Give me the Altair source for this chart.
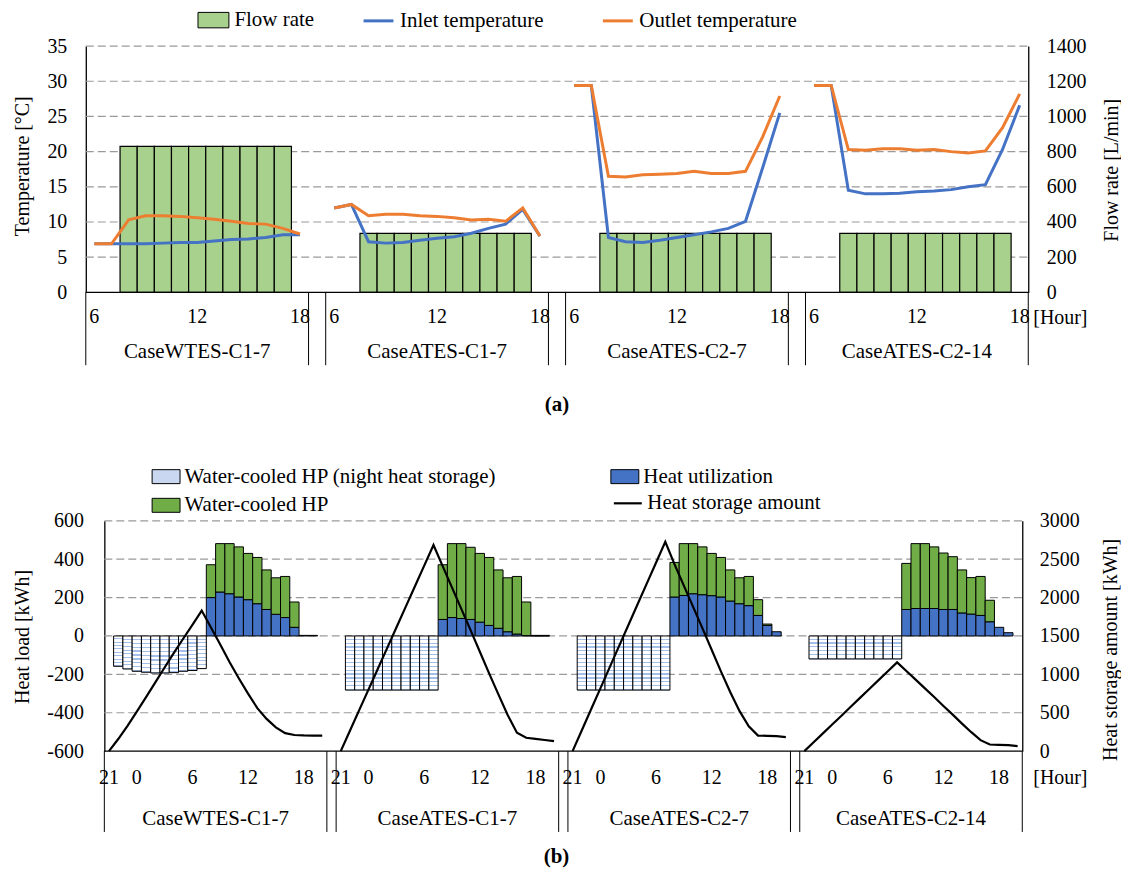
import altair as alt
import pandas as pd

FONT = "Liberation Serif"
GRID = "#9a9a9a"
BLUE = "#4472c4"
ORANGE = "#ed7d31"
GREEN_A = "#a9d18e"
GREEN_B = "#70ad47"
NIGHT_SWATCH = "#c9d8f0"

CASES = ["CaseWTES-C1-7", "CaseATES-C1-7", "CaseATES-C2-7", "CaseATES-C2-14"]

# ---------------- (a) flow rate and temperatures ----------------
HOURS_A = [6, 7, 8, 9, 10, 11, 12, 13, 14, 15, 16, 17, 18]
HOUR_TICKS_A = [6, 12, 18]
FLOW_HOURS = [8, 9, 10, 11, 12, 13, 14, 15, 16, 17]

FLOW_WTES_C1_7 = [830, 830, 830, 830, 830, 830, 830, 830, 830, 830]
FLOW_ATES_C1_7 = [335, 335, 335, 335, 335, 335, 335, 335, 335, 335]
FLOW_ATES_C2_7 = [335, 335, 335, 335, 335, 335, 335, 335, 335, 335]
FLOW_ATES_C2_14 = [335, 335, 335, 335, 335, 335, 335, 335, 335, 335]

INLET_WTES_C1_7 = [6.9, 6.9, 6.9, 6.9, 7.0, 7.1, 7.1, 7.3, 7.5, 7.6, 7.8, 8.2, 8.2]
OUTLET_WTES_C1_7 = [6.9, 6.9, 10.3, 10.9, 10.9, 10.8, 10.6, 10.4, 10.1, 9.8, 9.7, 9.1, 8.3]
INLET_ATES_C1_7 = [12.0, 12.5, 7.2, 7.0, 7.1, 7.4, 7.7, 7.9, 8.4, 9.1, 9.7, 11.8, 8.0]
OUTLET_ATES_C1_7 = [12.0, 12.5, 10.9, 11.1, 11.1, 10.9, 10.8, 10.6, 10.3, 10.4, 10.1, 12.0, 8.0]
INLET_ATES_C2_7 = [29.4, 29.4, 7.8, 7.2, 7.1, 7.4, 7.8, 8.2, 8.6, 9.1, 10.1, 17.7, 25.5]
OUTLET_ATES_C2_7 = [29.4, 29.4, 16.5, 16.4, 16.7, 16.8, 16.9, 17.2, 16.9, 16.9, 17.2, 22.1, 27.9]
INLET_ATES_C2_14 = [29.4, 29.4, 14.5, 14.0, 14.0, 14.1, 14.3, 14.4, 14.6, 15.0, 15.3, 20.3, 26.6]
OUTLET_ATES_C2_14 = [29.4, 29.4, 20.3, 20.2, 20.4, 20.4, 20.2, 20.3, 20.0, 19.8, 20.1, 23.4, 28.2]

TEMP_TICKS = [0, 5, 10, 15, 20, 25, 30, 35]
FLOW_TICKS = [0, 200, 400, 600, 800, 1000, 1200, 1400]

# ---------------- (b) heat load and heat storage ----------------
HOURS_B = [21, 22, 23, 0, 1, 2, 3, 4, 5, 6, 7, 8, 9, 10, 11, 12, 13, 14, 15, 16, 17, 18, 19, 20]
HOUR_TICKS_B = [21, 0, 6, 12, 18]
NIGHT_HOURS = [22, 23, 0, 1, 2, 3, 4, 5, 6, 7]
DAY_HOURS = [8, 9, 10, 11, 12, 13, 14, 15, 16, 17, 18, 19]

NIGHT_WTES_C1_7 = [-158, -172, -184, -189, -193, -193, -191, -184, -180, -170]
NIGHT_ATES_C1_7 = [-282, -282, -282, -282, -282, -282, -282, -282, -282, -282]
NIGHT_ATES_C2_7 = [-282, -282, -282, -282, -282, -282, -282, -282, -282, -282]
NIGHT_ATES_C2_14 = [-120, -120, -120, -120, -120, -120, -120, -120, -120, -120]

UTIL_WTES_C1_7 = [200, 229, 220, 203, 189, 168, 138, 113, 96, 45, 3, 3]
HP_WTES_C1_7 = [171, 252, 261, 261, 241, 241, 206, 190, 214, 132, 0, 0]
UTIL_ATES_C1_7 = [86, 96, 91, 86, 72, 55, 40, 22, 10, 2, 1, 1]
HP_ATES_C1_7 = [285, 385, 390, 376, 358, 354, 304, 281, 300, 175, 2, 2]
UTIL_ATES_C2_7 = [203, 211, 220, 215, 210, 203, 182, 168, 158, 107, 55, 22]
HP_ATES_C2_7 = [180, 270, 261, 249, 220, 206, 162, 135, 152, 82, 7, 0]
UTIL_ATES_C2_14 = [138, 143, 143, 143, 138, 138, 120, 114, 107, 74, 45, 17]
HP_ATES_C2_14 = [240, 338, 338, 321, 294, 275, 224, 190, 203, 112, 0, 0]

STORAGE_WTES_C1_7 = [0, 158, 330, 514, 703, 896, 1089, 1280, 1464, 1645, 1831, 1610,
                     1390, 1160, 950, 750, 560, 420, 310, 235, 210, 205, 203, 203]
STORAGE_ATES_C1_7 = [0, 268, 537, 805, 1074, 1342, 1610, 1879, 2147, 2416, 2684, 2407,
                     2130, 1853, 1576, 1294, 1013, 740, 470, 240, 175, 160, 145, 130]
STORAGE_ATES_C2_7 = [0, 273, 545, 818, 1091, 1364, 1636, 1909, 2182, 2454, 2727, 2433,
                     2156, 1879, 1602, 1320, 1039, 770, 524, 325, 203, 199, 195, 182]
STORAGE_ATES_C2_14 = [0, 116, 231, 347, 462, 578, 694, 809, 925, 1040, 1156, 1043,
                      931, 818, 706, 589, 476, 359, 247, 143, 87, 82, 78, 65]

LOAD_TICKS = [-600, -400, -200, 0, 200, 400, 600]
STORE_TICKS = [0, 500, 1000, 1500, 2000, 2500, 3000]

NIGHT_LBL = "Water-cooled HP (night heat storage)"
UTIL_LBL = "Heat utilization"
HP_LBL = "Water-cooled HP"
STORE_LBL = "Heat storage amount"

FLOW = [FLOW_WTES_C1_7, FLOW_ATES_C1_7, FLOW_ATES_C2_7, FLOW_ATES_C2_14]
INLET = [INLET_WTES_C1_7, INLET_ATES_C1_7, INLET_ATES_C2_7, INLET_ATES_C2_14]
OUTLET = [OUTLET_WTES_C1_7, OUTLET_ATES_C1_7, OUTLET_ATES_C2_7, OUTLET_ATES_C2_14]
NIGHT = [NIGHT_WTES_C1_7, NIGHT_ATES_C1_7, NIGHT_ATES_C2_7, NIGHT_ATES_C2_14]
UTIL = [UTIL_WTES_C1_7, UTIL_ATES_C1_7, UTIL_ATES_C2_7, UTIL_ATES_C2_14]
HP = [HP_WTES_C1_7, HP_ATES_C1_7, HP_ATES_C2_7, HP_ATES_C2_14]
STORAGE = [STORAGE_WTES_C1_7, STORAGE_ATES_C1_7, STORAGE_ATES_C2_7, STORAGE_ATES_C2_14]

# ---------------- layout (category slots) ----------------
SLOT_A = len(HOURS_A) + 1          # hourly categories + one blank category
SLOT_B = len(HOURS_B) + 1
N_A = SLOT_A * 3 + len(HOURS_A)    # 55 categories
N_B = SLOT_B * 3 + len(HOURS_B)    # 99 categories
PAD_B = 2                          # blank room left of panel (b)
W_A, H_A = 945, 247
W_B, H_B = 939, 231
UNIT_B = W_B / (N_B + PAD_B)


def xa(p, h):
    return SLOT_A * p + HOURS_A.index(h)


def xb(p, h):
    return SLOT_B * p + HOURS_B.index(h)


XA = alt.Scale(domain=[0, N_A], nice=False, zero=False)
XB = alt.Scale(domain=[-PAD_B, N_B], nice=False, zero=False)
TEMP = alt.Scale(domain=[0, 35], nice=False, zero=False)
FLOWS = alt.Scale(domain=[0, 1400], nice=False, zero=False)
LOAD = alt.Scale(domain=[-600, 600], nice=False, zero=False)
STORE = alt.Scale(domain=[0, 3000], nice=False, zero=False)

AXIS_COMMON = dict(ticks=False, tickSize=0, grid=False, domainColor="black", domainWidth=1.3,
                   labelFont=FONT, labelFontSize=20, labelColor="black",
                   titleFont=FONT, titleFontSize=20, titleColor="black", titleFontWeight="normal",
                   titleAngle=270, titleAlign="center", titleBaseline="middle",
                   labelExpr="'' + datum.value")

# ---------------- frames for (a) ----------------
bars_a = pd.DataFrame([
    {"case": CASES[p], "x0": xa(p, h), "x1": xa(p, h) + 1, "flow": v, "zero": 0, "item": "Flow rate"}
    for p in range(4) for h, v in zip(FLOW_HOURS, FLOW[p])
])
lines_a = pd.DataFrame([
    {"case": CASES[p], "x": xa(p, h) + 0.5, "temp": v, "series": s}
    for p in range(4)
    for s, arr in (("Inlet temperature", INLET[p]), ("Outlet temperature", OUTLET[p]))
    for h, v in zip(HOURS_A, arr)
])
grid_a = pd.DataFrame({"v": TEMP_TICKS[1:], "x0": 0, "x1": N_A})
base_a = pd.DataFrame({"v": [0], "x0": [0], "x1": [N_A]})
seps_a = pd.DataFrame({"x": sorted({b for p in range(4) for b in (SLOT_A * p, SLOT_A * p + len(HOURS_A))})})
ticks_a = pd.DataFrame([
    {"x": xa(p, h) + 0.5, "label": str(h)} for p in range(4) for h in HOUR_TICKS_A
])
cases_a = pd.DataFrame([
    {"x": SLOT_A * p + len(HOURS_A) / 2, "label": CASES[p]} for p in range(4)
])

LEG_Y_A = -42
stroke_scale_a = alt.Scale(domain=["Inlet temperature", "Outlet temperature"], range=[BLUE, ORANGE])
stroke_legend_a = alt.Legend(orient="none", legendX=277, legendY=LEG_Y_A, direction="horizontal",
                             title=None, symbolType="stroke", symbolSize=900, symbolStrokeWidth=3,
                             labelFont=FONT, labelFontSize=21, labelColor="black", labelOffset=5,
                             columnPadding=52, padding=0, labelLimit=400)

g_a = alt.Chart(grid_a).mark_rule(color=GRID, strokeDash=[8, 4], strokeWidth=1.2).encode(
    x=alt.X("x0:Q", scale=XA, axis=None), x2="x1:Q",
    y=alt.Y("v:Q", scale=TEMP, axis=None))
b_a = alt.Chart(bars_a).mark_rect(stroke="black", strokeWidth=1.2).encode(
    x=alt.X("x0:Q", scale=XA, axis=None), x2="x1:Q",
    y=alt.Y("flow:Q", scale=FLOWS,
            axis=alt.Axis(orient="right", values=FLOW_TICKS, title="Flow rate [L/min]",
                          labelPadding=18, titleX=83, titleY=124, **AXIS_COMMON)),
    y2="zero:Q",
    fill=alt.Fill("item:N", scale=alt.Scale(domain=["Flow rate"], range=[GREEN_A]),
                  legend=alt.Legend(orient="none", legendX=112, legendY=LEG_Y_A, title=None,
                                    symbolType="M-1,-0.5H1V0.5H-1Z", symbolSize=961,
                                    symbolStrokeColor="black", symbolStrokeWidth=1,
                                    labelFont=FONT, labelFontSize=21, labelColor="black",
                                    labelOffset=5, padding=0)))
inlet_a = alt.Chart(lines_a).transform_filter(alt.datum.series == "Inlet temperature").mark_line(
    strokeWidth=3).encode(
    x=alt.X("x:Q", scale=XA, axis=None),
    y=alt.Y("temp:Q", scale=TEMP,
            axis=alt.Axis(orient="left", values=TEMP_TICKS, title="Temperature [°C]",
                          labelPadding=19, titleX=-63, titleY=120, **AXIS_COMMON)),
    stroke=alt.Stroke("series:N", scale=stroke_scale_a, legend=stroke_legend_a),
    detail="case:N")
outlet_a = alt.Chart(lines_a).transform_filter(alt.datum.series == "Outlet temperature").mark_line(
    strokeWidth=3).encode(
    x=alt.X("x:Q", scale=XA, axis=None),
    y=alt.Y("temp:Q", scale=TEMP, axis=None),
    stroke=alt.Stroke("series:N", scale=stroke_scale_a, legend=stroke_legend_a),
    detail="case:N")
ax_a = alt.Chart(base_a).mark_rule(color="black", strokeWidth=1.3).encode(
    x=alt.X("x0:Q", scale=XA, axis=None), x2="x1:Q",
    y=alt.Y("v:Q", scale=TEMP, axis=None))
sep_a = alt.Chart(seps_a).mark_rule(color="black", strokeWidth=1).encode(
    x=alt.X("x:Q", scale=XA, axis=None), y=alt.value(H_A), y2=alt.value(H_A + 73))
tk_a = alt.Chart(ticks_a).mark_text(font=FONT, fontSize=20, baseline="middle").encode(
    x=alt.X("x:Q", scale=XA, axis=None), y=alt.value(H_A + 25), text="label:N")
cs_a = alt.Chart(cases_a).mark_text(font=FONT, fontSize=21, baseline="middle").encode(
    x=alt.X("x:Q", scale=XA, axis=None), y=alt.value(H_A + 60), text="label:N")
unit_a = alt.Chart(pd.DataFrame({"t": ["[Hour]"]})).mark_text(
    font=FONT, fontSize=20, align="left", baseline="middle").encode(
    x=alt.value(W_A + 5), y=alt.value(H_A + 26), text="t:N")
cap_a = alt.Chart(pd.DataFrame({"t": ["(a)"]})).mark_text(
    font=FONT, fontSize=21, fontWeight="bold", baseline="middle").encode(
    x=alt.value(W_A / 2), y=alt.value(H_A + 113), text="t:N")

top = alt.layer(g_a, b_a, inlet_a, outlet_a, ax_a, sep_a, tk_a, cs_a, unit_a, cap_a).properties(
    width=W_A, height=H_A).resolve_scale(y="independent")

# ---------------- frames for (b) ----------------
night_frames = [
    pd.DataFrame([{"case": CASES[p], "x0": xb(p, h), "x1": xb(p, h) + 1, "top": 0, "bot": v}
                  for h, v in zip(NIGHT_HOURS, NIGHT[p])])
    for p in range(4)
]
day_b = pd.DataFrame(
    [{"case": CASES[p], "x0": xb(p, h), "x1": xb(p, h) + 1, "bot": 0, "top": u, "part": UTIL_LBL}
     for p in range(4) for h, u in zip(DAY_HOURS, UTIL[p])] +
    [{"case": CASES[p], "x0": xb(p, h), "x1": xb(p, h) + 1, "bot": u, "top": u + g, "part": HP_LBL}
     for p in range(4) for h, u, g in zip(DAY_HOURS, UTIL[p], HP[p]) if g > 0]
)
store_b = pd.DataFrame([
    {"case": CASES[p], "x": xb(p, h) + 0.5, "store": v, "item": STORE_LBL}
    for p in range(4) for h, v in zip(HOURS_B, STORAGE[p])
])
grid_b = pd.DataFrame({"v": LOAD_TICKS[1:], "x0": 0, "x1": N_B})
base_b = pd.DataFrame({"v": [LOAD_TICKS[0]], "x0": [0], "x1": [N_B]})
seps_b = pd.DataFrame({"x": sorted({b for p in range(4) for b in (SLOT_B * p, SLOT_B * p + len(HOURS_B))})})
ticks_b = pd.DataFrame([
    {"x": xb(p, h) + 0.5, "label": str(h)} for p in range(4) for h in HOUR_TICKS_B
])
cases_b = pd.DataFrame([
    {"x": SLOT_B * p + len(HOURS_B) / 2, "label": CASES[p]} for p in range(4)
])


def stripes(n, line="#a3bfe9", bg="#ffffff", frac=0.3):
    stops = []
    for i in range(n):
        a, b, c = i / n, (i + 1 - frac) / n, (i + 1) / n
        stops += [{"offset": a, "color": bg}, {"offset": b, "color": bg},
                  {"offset": b, "color": line}, {"offset": c, "color": line}]
    return {"gradient": "linear", "x1": 0, "y1": 0, "x2": 0, "y2": 1, "stops": stops}


STRIPES = [9, 14, 14, 6]

g_b = alt.Chart(grid_b).mark_rule(color=GRID, strokeDash=[8, 4], strokeWidth=1.2).encode(
    x=alt.X("x0:Q", scale=XB, axis=None), x2="x1:Q",
    y=alt.Y("v:Q", scale=LOAD, axis=None))
ax_b = alt.Chart(base_b).mark_rule(color="black", strokeWidth=1.3).encode(
    x=alt.X("x0:Q", scale=XB, axis=None), x2="x1:Q",
    y=alt.Y("v:Q", scale=LOAD, axis=None))
night_layers = [
    alt.Chart(night_frames[p]).mark_rect(stroke="black", strokeWidth=1, fill=stripes(STRIPES[p])).encode(
        x=alt.X("x0:Q", scale=XB, axis=None), x2="x1:Q",
        y=alt.Y("top:Q", scale=LOAD, axis=None), y2="bot:Q")
    for p in range(4)
]
day_layer = alt.Chart(day_b).mark_rect(stroke="black", strokeWidth=1).encode(
    x=alt.X("x0:Q", scale=XB, axis=None), x2="x1:Q",
    y=alt.Y("top:Q", scale=LOAD,
            axis=alt.Axis(orient="left", values=LOAD_TICKS, title="Heat load [kWh]",
                          offset=-PAD_B * UNIT_B, labelPadding=21, titleX=-81.6, titleY=116,
                          **AXIS_COMMON)),
    y2="bot:Q",
    fill=alt.Fill("part:N", scale=alt.Scale(domain=[NIGHT_LBL, HP_LBL, UTIL_LBL],
                                            range=[NIGHT_SWATCH, GREEN_B, BLUE]),
                  legend=alt.Legend(orient="none", legendX=66, legendY=-59, title=None, columns=2,
                                    symbolType="M-1,-0.5H1V0.5H-1Z", symbolSize=784,
                                    symbolStrokeColor="black", symbolStrokeWidth=1,
                                    labelFont=FONT, labelFontSize=21, labelColor="black",
                                    labelOffset=4, labelLimit=400, columnPadding=112,
                                    rowPadding=4, padding=0)))
line_b = alt.Chart(store_b).mark_line(strokeWidth=2.2).encode(
    x=alt.X("x:Q", scale=XB, axis=None),
    y=alt.Y("store:Q", scale=STORE,
            axis=alt.Axis(orient="right", values=STORE_TICKS, title="Heat storage amount [kWh]",
                          labelPadding=17, titleX=88.6, titleY=129, **AXIS_COMMON)),
    stroke=alt.Stroke("item:N", scale=alt.Scale(domain=[STORE_LBL], range=["black"]),
                      legend=alt.Legend(orient="none", legendX=528, legendY=-33, title=None,
                                        symbolType="stroke", symbolSize=784, symbolStrokeWidth=2.2,
                                        labelFont=FONT, labelFontSize=21, labelColor="black",
                                        labelOffset=4, padding=0, labelLimit=400)),
    detail="case:N")
sep_b = alt.Chart(seps_b).mark_rule(color="black", strokeWidth=1).encode(
    x=alt.X("x:Q", scale=XB, axis=None), y=alt.value(H_B), y2=alt.value(H_B + 81))
tk_b = alt.Chart(ticks_b).mark_text(font=FONT, fontSize=20, baseline="middle").encode(
    x=alt.X("x:Q", scale=XB, axis=None), y=alt.value(H_B + 27), text="label:N")
cs_b = alt.Chart(cases_b).mark_text(font=FONT, fontSize=21, baseline="middle").encode(
    x=alt.X("x:Q", scale=XB, axis=None), y=alt.value(H_B + 68), text="label:N")
unit_b = alt.Chart(pd.DataFrame({"t": ["[Hour]"]})).mark_text(
    font=FONT, fontSize=20, align="left", baseline="middle").encode(
    x=alt.value(W_B + 11), y=alt.value(H_B + 27), text="t:N")
cap_b = alt.Chart(pd.DataFrame({"t": ["(b)"]})).mark_text(
    font=FONT, fontSize=21, fontWeight="bold", baseline="middle").encode(
    x=alt.value(472), y=alt.value(H_B + 106), text="t:N")

bottom = alt.layer(g_b, ax_b, *night_layers, day_layer, line_b, sep_b, tk_b, cs_b, unit_b, cap_b).properties(
    width=W_B, height=H_B).resolve_scale(y="independent")

chart = alt.vconcat(top, bottom, spacing=229, bounds="flush").resolve_scale(
    fill="independent", stroke="independent"
).resolve_legend(
    fill="independent", stroke="independent"
).properties(
    padding={"left": 4, "top": -5, "right": 0, "bottom": 0}
).configure_view(stroke=None)

chart.save("out.html", embed_options={"renderer": "svg", "actions": False})
